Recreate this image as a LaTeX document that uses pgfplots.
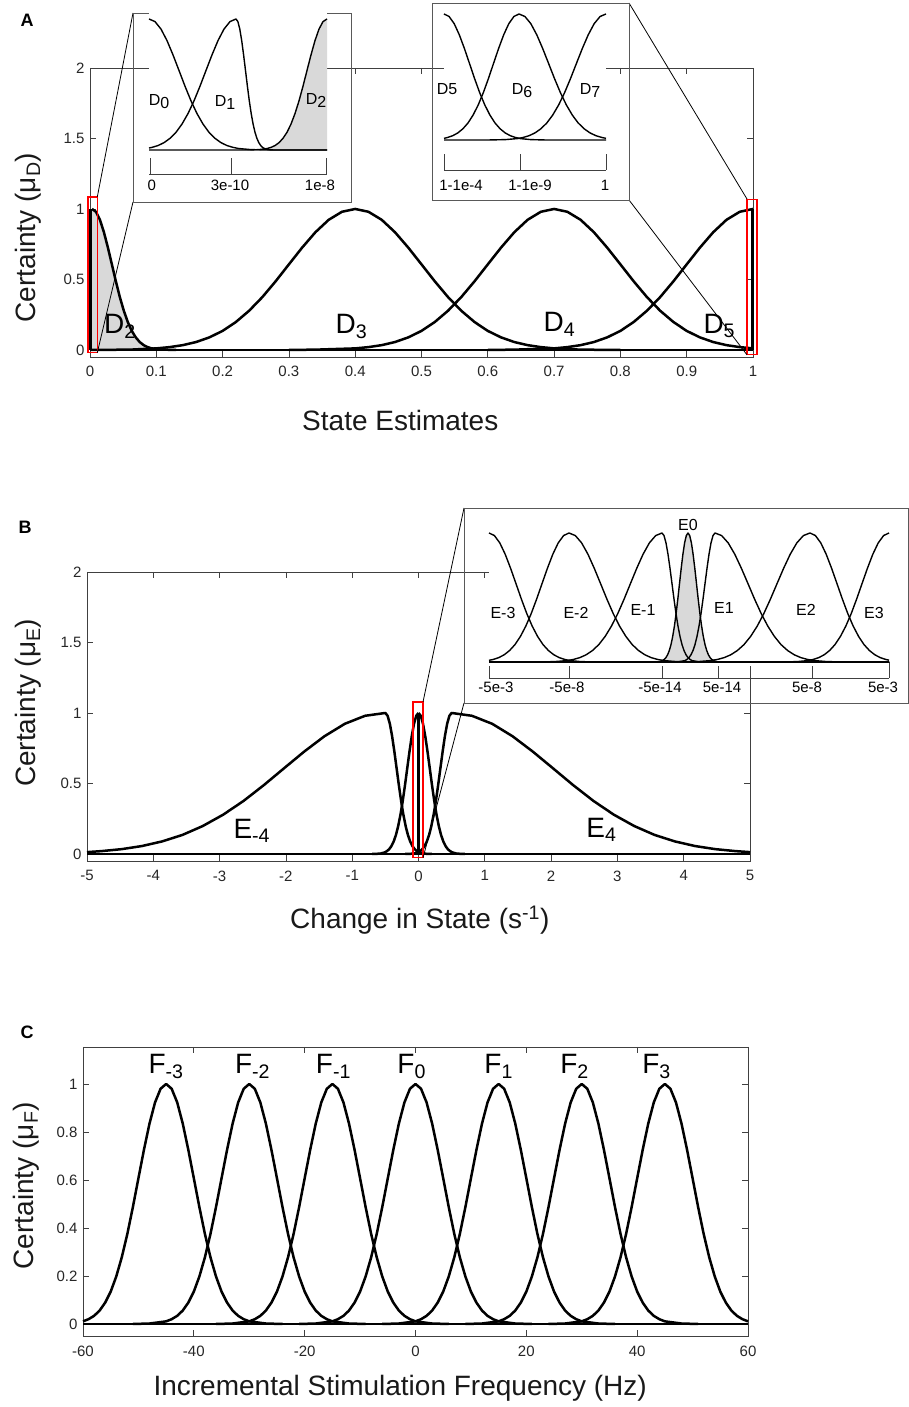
\documentclass[border=0pt]{standalone}
\usepackage{pgfplots}
\pgfplotsset{compat=1.18}
\usepackage{fontspec}
\setmainfont{Liberation Sans}

\pgfplotsset{
 mainax/.style={scale only axis, anchor=south west, clip=false, enlargelimits=false,
  axis line style={black!75, line width=0.8pt},
  every tick/.style={black!75, line width=0.8pt},
  major tick length=6pt, tick align=inside,
  ticklabel style={font=\fontsize{15}{18}\selectfont, text=black!85},
  /pgf/number format/assume math mode=true,
  label style={font=\fontsize{28}{34}\selectfont, text=black!90},
  xticklabel style={yshift=-6pt}, yticklabel style={xshift=-2pt},
 },
 curve/.style={black, line width=2.5pt, line join=round},
 icurve/.style={black, line width=1.4pt, line join=round},
 insetax/.style={scale only axis, anchor=south west, clip=false, enlargelimits=false,
  axis x line*=bottom, axis y line=none, ytick=\empty, xticklabels={},
  major tick length=16pt, tick align=inside,
  axis line style={black!75, line width=0.9pt},
  every tick/.style={black!75, line width=0.9pt}},
}
\newcommand{\biglab}{\fontsize{28}{34}\selectfont}
\newcommand{\inl}{\fontsize{16}{19}\selectfont}
\newcommand{\tkl}{\fontsize{15}{18}\selectfont}

\begin{document}
\begin{tikzpicture}[x=1pt,y=1pt]
\path[use as bounding box] (0,0) rectangle (909,1407);

% panel letters
\node[font=\bfseries\fontsize{18}{20}\selectfont] at (27,1387) {A};
\node[font=\bfseries\fontsize{18}{20}\selectfont] at (25,880) {B};
\node[font=\bfseries\fontsize{18}{20}\selectfont] at (27,375) {C};

%================ PANEL A =================
\begin{axis}[mainax, at={(90pt,1050pt)}, width=663pt, height=289pt,
  xmin=0, xmax=1, ymin=-0.05, ymax=2,
  xtick={0,0.1,0.2,0.3,0.4,0.5,0.6,0.7,0.8,0.9,1},
  ytick={0,0.5,1,1.5,2},
  xlabel={State Estimates}, ylabel={Certainty (μ\textsubscript{D})},
  xlabel style={at={(axis description cs:0.468,-0.221)}, anchor=center},
  ylabel style={at={(axis description cs:-0.0935,0.413)}, anchor=center}]
\addplot[fill=gray!30, draw=none] coordinates {(0.003,1)(0.009,.980)(0.015,.923)(0.021,.835)(0.027,.726)(0.033,.607)(0.039,.487)(0.045,.375)(0.051,.278)(0.057,.198)(0.063,.135)(0.069,.089)(0.075,.056)(0.081,.034)(0.087,.020)(0.093,.011)} \closedcycle;
\addplot[curve] coordinates {(0,0)(1,0)};
\addplot[curve] coordinates {(0.001,0)(0.001,1)};
\addplot[curve] coordinates {(0.999,0)(0.999,1)};
\addplot[curve] coordinates {(0.003,1)(0.009,.980)(0.015,.923)(0.021,.835)(0.027,.726)(0.033,.607)(0.039,.487)(0.045,.375)(0.051,.278)(0.057,.198)(0.063,.135)(0.069,.089)(0.075,.056)(0.081,.034)(0.087,.020)(0.093,.011)(0.111,.002)(0.13,0)};
\addplot[curve] coordinates {(0,0)(0.06,.002)(0.1,.011)(0.12,.020)(0.14,.034)(0.16,.056)(0.18,.089)(0.2,.135)(0.22,.198)(0.24,.278)(0.26,.375)(0.28,.487)(0.3,.607)(0.32,.726)(0.34,.835)(0.36,.923)(0.38,.980)(0.4,1)(0.42,.980)(0.44,.923)(0.46,.835)(0.48,.726)(0.5,.607)(0.52,.487)(0.54,.375)(0.56,.278)(0.58,.198)(0.6,.135)(0.62,.089)(0.64,.056)(0.66,.034)(0.68,.020)(0.7,.011)(0.74,.002)(0.8,0)};
\addplot[curve] coordinates {(0.3,0)(0.34,.002)(0.4,.011)(0.42,.020)(0.44,.034)(0.46,.056)(0.48,.089)(0.5,.135)(0.52,.198)(0.54,.278)(0.56,.375)(0.58,.487)(0.6,.607)(0.62,.726)(0.64,.835)(0.66,.923)(0.68,.980)(0.7,1)(0.72,.980)(0.74,.923)(0.76,.835)(0.78,.726)(0.8,.607)(0.82,.487)(0.84,.375)(0.86,.278)(0.88,.198)(0.9,.135)(0.92,.089)(0.94,.056)(0.96,.034)(0.98,.020)(1,.011)};
\addplot[curve] coordinates {(0.6,0)(0.64,.002)(0.7,.011)(0.72,.020)(0.74,.034)(0.76,.056)(0.78,.089)(0.8,.135)(0.82,.198)(0.84,.278)(0.86,.375)(0.88,.487)(0.9,.607)(0.92,.726)(0.94,.835)(0.96,.923)(0.98,.980)(1,1)};
\node[anchor=base west, font=\biglab] at (axis cs:0.016,0.12) {D\textsubscript{2}};
\node[anchor=base west, font=\biglab] at (axis cs:0.365,0.12) {D\textsubscript{3}};
\node[anchor=base west, font=\biglab] at (axis cs:0.679,0.128) {D\textsubscript{4}};
\node[anchor=base west, font=\biglab] at (axis cs:0.92,0.12) {D\textsubscript{5}};
\coordinate (ra1sw) at (axis cs:-0.003,-0.02);
\coordinate (ra1t) at (axis cs:0.011,1.085);
\coordinate (ra1b) at (axis cs:0.011,-0.02);
\coordinate (ra2t) at (axis cs:0.991,1.07);
\coordinate (ra2b) at (axis cs:0.991,-0.035);
\coordinate (ra2ne) at (axis cs:1.006,1.07);
\end{axis}
\draw[red, line width=1.1pt] (ra1sw) rectangle (ra1t);
\draw[red, line width=1.1pt] (ra2b) rectangle (ra2ne);
\draw[black, line width=0.8pt] (133,1394) -- (ra1t);
\draw[black, line width=0.8pt] (133,1205) -- (ra1b);
\draw[black, line width=0.8pt] (629,1404) -- (ra2t);
\draw[black, line width=0.8pt] (629,1207) -- (ra2b);
\draw[black!65, line width=0.9pt] (133,1205) rectangle (351,1394);
\draw[black!65, line width=0.9pt] (432,1207) rectangle (629,1404);

% inset A1
\begin{axis}[insetax, at={(149pt,1233pt)}, width=178pt, height=155pt,
  xmin=0, xmax=178, ymin=-0.183, ymax=1, xtick={1.7,82,177.7}]
\fill[white] (axis cs:0,-0.02) rectangle (axis cs:178,1.05);
\addplot[fill=gray!30, draw=none] coordinates {(118,.011)(122,.020)(126,.034)(130,.056)(134,.089)(138,.135)(142,.198)(146,.278)(150,.375)(154,.487)(158,.607)(162,.726)(166,.835)(170,.923)(174,.980)(178,1)} \closedcycle;
\addplot[icurve] coordinates {(0,1)(6,.980)(12,.923)(18,.835)(24,.726)(30,.607)(36,.487)(42,.375)(48,.278)(54,.198)(60,.135)(66,.089)(72,.056)(78,.034)(84,.020)(90,.011)(102,.003)(120,0)(178,0)};
\addplot[icurve] coordinates {(0,.015)(3,.020)(9,.034)(15,.056)(21,.089)(27,.135)(33,.198)(39,.278)(45,.375)(51,.487)(57,.607)(63,.726)(69,.835)(75,.923)(81,.980)(87,1)(88.9,.980)(90.8,.923)(92.7,.835)(94.6,.726)(96.5,.607)(98.4,.487)(100.3,.375)(102.2,.278)(104.1,.198)(106,.135)(107.9,.089)(109.8,.056)(111.7,.034)(113.6,.020)(115.5,.011)(119.3,.002)(125,0)(178,0)};
\addplot[icurve] coordinates {(0,0)(100,0)(110,.003)(118,.011)(122,.020)(126,.034)(130,.056)(134,.089)(138,.135)(142,.198)(146,.278)(150,.375)(154,.487)(158,.607)(162,.726)(166,.835)(170,.923)(174,.980)(178,1)};
\node[font=\inl] at (axis cs:10,0.366) {D\raisebox{-3pt}{0}};
\node[font=\inl] at (axis cs:76,0.366) {D\raisebox{-3pt}{1}};
\node[font=\inl] at (axis cs:167,0.38) {D\raisebox{-3pt}{2}};
\node[font=\tkl] at (axis cs:2.7,-0.267) {0};
\node[font=\tkl] at (axis cs:81,-0.267) {3e-10};
\node[font=\tkl] at (axis cs:171,-0.267) {1e-8};
\end{axis}

% inset A2
\begin{axis}[insetax, at={(444pt,1237pt)}, width=162pt, height=156pt,
  xmin=0, xmax=162, ymin=-0.238, ymax=1, xtick={0,76,162}]
\fill[white] (axis cs:0,-0.02) rectangle (axis cs:162,1.05);
\addplot[icurve] coordinates {(0,1)(5.1,.980)(10.2,.923)(15.3,.835)(20.4,.726)(25.5,.607)(30.6,.487)(35.7,.375)(40.8,.278)(45.9,.198)(51,.135)(56.1,.089)(61.2,.056)(66.3,.034)(71.4,.020)(76.5,.011)(86.7,.003)(102,0)(162,0)};
\addplot[icurve] coordinates {(0,.013)(3.6,.020)(8.7,.034)(13.8,.056)(18.9,.089)(24,.135)(29.1,.198)(34.2,.278)(39.3,.375)(44.4,.487)(49.5,.607)(54.6,.726)(59.7,.835)(64.8,.923)(69.9,.980)(75,1)(80.92,.980)(86.84,.923)(92.76,.835)(98.68,.726)(104.6,.607)(110.52,.487)(116.44,.375)(122.36,.278)(128.28,.198)(134.2,.135)(140.12,.089)(146.04,.056)(151.96,.034)(157.88,.020)(162,.013)};
\addplot[icurve] coordinates {(0,0)(44,0)(61.4,.003)(73.2,.011)(79.12,.020)(85.04,.034)(90.96,.056)(96.88,.089)(102.8,.135)(108.72,.198)(114.64,.278)(120.56,.375)(126.48,.487)(132.4,.607)(138.32,.726)(144.24,.835)(150.16,.923)(156.08,.980)(162,1)};
\node[font=\inl] at (axis cs:3,0.405) {D5};
\node[font=\inl] at (axis cs:78,0.39) {D\raisebox{-3pt}{6}};
\node[font=\inl] at (axis cs:146,0.39) {D\raisebox{-3pt}{7}};
\node[font=\tkl] at (axis cs:17,-0.357) {1-1e-4};
\node[font=\tkl] at (axis cs:86,-0.357) {1-1e-9};
\node[font=\tkl] at (axis cs:161,-0.357) {1};
\end{axis}

%================ PANEL B =================
\begin{axis}[mainax, at={(87pt,546pt)}, width=663pt, height=289pt,
  xmin=-5, xmax=5, ymin=-0.05, ymax=2,
  xtick={-5,-4,-3,-2,-1,0,1,2,3,4,5},
  ytick={0,0.5,1,1.5,2},
  xlabel={Change in State (s\textsuperscript{-1})}, ylabel={Certainty (μ\textsubscript{E})},
  xlabel style={at={(axis description cs:0.502,-0.204)}, anchor=center},
  ylabel style={at={(axis description cs:-0.089,0.547)}, anchor=center}]
\addplot[curve] coordinates {(-5,0)(5,0)};
\addplot[curve] coordinates {(0,0)(0,1)};
\addplot[curve] coordinates {(-5,.013)(-4.784,.020)(-4.478,.034)(-4.172,.056)(-3.866,.089)(-3.56,.135)(-3.254,.198)(-2.948,.278)(-2.642,.375)(-2.336,.487)(-2.03,.607)(-1.724,.726)(-1.418,.835)(-1.112,.923)(-0.806,.980)(-0.5,1)(-0.466,.980)(-0.432,.923)(-0.398,.835)(-0.364,.726)(-0.33,.607)(-0.296,.487)(-0.262,.375)(-0.228,.278)(-0.194,.198)(-0.16,.135)(-0.126,.089)(-0.092,.056)(-0.058,.034)(-0.024,.020)(0.01,.011)(0.078,.002)(0.2,0)};
\addplot[curve] coordinates {(-0.2,0)(-0.078,.002)(-0.01,.011)(0.024,.020)(0.058,.034)(0.092,.056)(0.126,.089)(0.16,.135)(0.194,.198)(0.228,.278)(0.262,.375)(0.296,.487)(0.33,.607)(0.364,.726)(0.398,.835)(0.432,.923)(0.466,.980)(0.5,1)(0.806,.980)(1.112,.923)(1.418,.835)(1.724,.726)(2.03,.607)(2.336,.487)(2.642,.375)(2.948,.278)(3.254,.198)(3.56,.135)(3.866,.089)(4.172,.056)(4.478,.034)(4.784,.020)(5,.013)};
\addplot[curve] coordinates {(-0.7,0)(-0.578,.002)(-0.51,.011)(-0.476,.020)(-0.442,.034)(-0.408,.056)(-0.374,.089)(-0.34,.135)(-0.306,.198)(-0.272,.278)(-0.238,.375)(-0.204,.487)(-0.17,.607)(-0.136,.726)(-0.102,.835)(-0.068,.923)(-0.034,.980)(0,1)};
\addplot[curve] coordinates {(0,1)(0.034,.980)(0.068,.923)(0.102,.835)(0.136,.726)(0.17,.607)(0.204,.487)(0.238,.375)(0.272,.278)(0.306,.198)(0.34,.135)(0.374,.089)(0.408,.056)(0.442,.034)(0.476,.020)(0.51,.011)(0.578,.002)(0.7,0)};
\node[anchor=base west, font=\biglab] at (axis cs:-2.843,0.113) {E\textsubscript{-4}};
\node[anchor=base west, font=\biglab] at (axis cs:2.48,0.12) {E\textsubscript{4}};
\coordinate (rbsw) at (axis cs:-0.083,-0.028);
\coordinate (rbt) at (axis cs:0.068,1.078);
\coordinate (rbb) at (axis cs:0.068,-0.028);
\end{axis}
\draw[red, line width=1.1pt] (rbsw) rectangle (rbt);
\draw[black, line width=0.8pt] (464,899) -- (rbt);
\draw[black, line width=0.8pt] (464,704) -- (rbb);
\draw[black!65, line width=0.9pt] (464,704) rectangle (908.5,899);

% inset B
\begin{axis}[insetax, at={(489pt,729pt)}, width=400pt, height=145pt,
  xmin=0, xmax=400, ymin=-0.124, ymax=1, xtick={0,80,173,229,323,400}]
\fill[white] (axis cs:0,-0.03) rectangle (axis cs:400,1.1);
\addplot[fill=gray!30, draw=none] coordinates {(173.5,.011)(175.2,.020)(176.9,.034)(178.6,.056)(180.3,.089)(182,.135)(183.7,.198)(185.4,.278)(187.1,.375)(188.8,.487)(190.5,.607)(192.2,.726)(193.9,.835)(195.6,.923)(197.3,.980)(199,1)(200.7,.980)(202.4,.923)(204.1,.835)(205.8,.726)(207.5,.607)(209.2,.487)(210.9,.375)(212.6,.278)(214.3,.198)(216,.135)(217.7,.089)(219.4,.056)(221.1,.034)(222.8,.020)(224.5,.011)} \closedcycle;
\addplot[icurve] coordinates {(0,1)(5.4,.980)(10.8,.923)(16.2,.835)(21.6,.726)(27,.607)(32.4,.487)(37.8,.375)(43.2,.278)(48.6,.198)(54,.135)(59.4,.089)(64.8,.056)(70.2,.034)(75.6,.020)(81,.011)(91.8,.003)(108,0)(400,0)};
\addplot[icurve] coordinates {(0,.013)(4.4,.020)(9.8,.034)(15.2,.056)(20.6,.089)(26,.135)(31.4,.198)(36.8,.278)(42.2,.375)(47.6,.487)(53,.607)(58.4,.726)(63.8,.835)(69.2,.923)(74.6,.980)(80,1)(86.32,.980)(92.64,.923)(98.96,.835)(105.28,.726)(111.6,.607)(117.92,.487)(124.24,.375)(130.56,.278)(136.88,.198)(143.2,.135)(149.52,.089)(155.84,.056)(162.16,.034)(168.48,.020)(174.8,.011)(187.4,.003)(206,0)(400,0)};
\addplot[icurve] coordinates {(0,0)(48,0)(65.6,.003)(78.2,.011)(84.52,.020)(90.84,.034)(97.16,.056)(103.48,.089)(109.8,.135)(116.12,.198)(122.44,.278)(128.76,.375)(135.08,.487)(141.4,.607)(147.72,.726)(154.04,.835)(160.36,.923)(166.68,.980)(173,1)(175,.980)(177,.923)(179,.835)(181,.726)(183,.607)(185,.487)(187,.375)(189,.278)(191,.198)(193,.135)(195,.089)(197,.056)(199,.034)(201,.020)(203,.011)(209,.002)(215,0)(400,0)};
\addplot[icurve] coordinates {(0,0)(164,0)(170.1,.002)(173.5,.011)(175.2,.020)(176.9,.034)(178.6,.056)(180.3,.089)(182,.135)(183.7,.198)(185.4,.278)(187.1,.375)(188.8,.487)(190.5,.607)(192.2,.726)(193.9,.835)(195.6,.923)(197.3,.980)(199,1)(200.7,.980)(202.4,.923)(204.1,.835)(205.8,.726)(207.5,.607)(209.2,.487)(210.9,.375)(212.6,.278)(214.3,.198)(216,.135)(217.7,.089)(219.4,.056)(221.1,.034)(222.8,.020)(224.5,.011)(227.9,.002)(234,0)(400,0)};
\addplot[icurve] coordinates {(0,0)(184,0)(190,.002)(196,.011)(198,.020)(200,.034)(202,.056)(204,.089)(206,.135)(208,.198)(210,.278)(212,.375)(214,.487)(216,.607)(218,.726)(220,.835)(222,.923)(224,.980)(226,1)(232.6,.980)(239.2,.923)(245.8,.835)(252.4,.726)(259,.607)(265.6,.487)(272.2,.375)(278.8,.278)(285.4,.198)(292,.135)(298.6,.089)(305.2,.056)(311.8,.034)(318.4,.020)(325,.011)(338.2,.003)(358,0)(400,0)};
\addplot[icurve] coordinates {(0,0)(190,0)(208.8,.003)(222,.011)(228.6,.020)(235.2,.034)(241.8,.056)(248.4,.089)(255,.135)(261.6,.198)(268.2,.278)(274.8,.375)(281.4,.487)(288,.607)(294.6,.726)(301.2,.835)(307.8,.923)(314.4,.980)(321,1)(326.4,.980)(331.8,.923)(337.2,.835)(342.6,.726)(348,.607)(353.4,.487)(358.8,.375)(364.2,.278)(369.6,.198)(375,.135)(380.4,.089)(385.8,.056)(391.2,.034)(396.6,.020)(400,.014)};
\addplot[icurve] coordinates {(0,0)(292,0)(308.2,.003)(319,.011)(324.4,.020)(329.8,.034)(335.2,.056)(340.6,.089)(346,.135)(351.4,.198)(356.8,.278)(362.2,.375)(367.6,.487)(373,.607)(378.4,.726)(383.8,.835)(389.2,.923)(394.6,.980)(400,1)};
\node[font=\inl] at (axis cs:14,0.38) {E-3};
\node[font=\inl] at (axis cs:87,0.38) {E-2};
\node[font=\inl] at (axis cs:154,0.40) {E-1};
\node[font=\inl] at (axis cs:199,1.06) {E0};
\node[font=\inl] at (axis cs:235,0.42) {E1};
\node[font=\inl] at (axis cs:317,0.40) {E2};
\node[font=\inl] at (axis cs:385,0.38) {E3};
\node[font=\tkl] at (axis cs:7,-0.2) {-5e-3};
\node[font=\tkl] at (axis cs:78,-0.2) {-5e-8};
\node[font=\tkl] at (axis cs:171,-0.2) {-5e-14};
\node[font=\tkl] at (axis cs:233,-0.2) {5e-14};
\node[font=\tkl] at (axis cs:318,-0.2) {5e-8};
\node[font=\tkl] at (axis cs:394,-0.2) {5e-3};
\end{axis}

%================ PANEL C =================
\begin{axis}[mainax, at={(83pt,71pt)}, width=665pt, height=289pt,
  xmin=-60, xmax=60, ymin=-0.05, ymax=1.154,
  xtick={-60,-40,-20,0,20,40,60},
  ytick={0,0.2,0.4,0.6,0.8,1},
  xlabel={Incremental Stimulation Frequency (Hz)}, ylabel={Certainty (μ\textsubscript{F})},
  xlabel style={at={(axis description cs:0.477,-0.18)}, anchor=center},
  ylabel style={at={(axis description cs:-0.086,0.52)}, anchor=center}]
\addplot[curve] coordinates {(-60,0)(60,0)};
\addplot[curve] coordinates {(-60,.011)(-59,.020)(-58,.034)(-57,.056)(-56,.089)(-55,.135)(-54,.198)(-53,.278)(-52,.375)(-51,.487)(-50,.607)(-49,.726)(-48,.835)(-47,.923)(-46,.980)(-45,1)(-44,.980)(-43,.923)(-42,.835)(-41,.726)(-40,.607)(-39,.487)(-38,.375)(-37,.278)(-36,.198)(-35,.135)(-34,.089)(-33,.056)(-32,.034)(-31,.020)(-30,.011)(-27,.002)(-24,0)};
\addplot[curve] coordinates {(-51,0)(-48,.002)(-45,.011)(-44,.020)(-43,.034)(-42,.056)(-41,.089)(-40,.135)(-39,.198)(-38,.278)(-37,.375)(-36,.487)(-35,.607)(-34,.726)(-33,.835)(-32,.923)(-31,.980)(-30,1)(-29,.980)(-28,.923)(-27,.835)(-26,.726)(-25,.607)(-24,.487)(-23,.375)(-22,.278)(-21,.198)(-20,.135)(-19,.089)(-18,.056)(-17,.034)(-16,.020)(-15,.011)(-12,.002)(-9,0)};
\addplot[curve] coordinates {(-36,0)(-33,.002)(-30,.011)(-29,.020)(-28,.034)(-27,.056)(-26,.089)(-25,.135)(-24,.198)(-23,.278)(-22,.375)(-21,.487)(-20,.607)(-19,.726)(-18,.835)(-17,.923)(-16,.980)(-15,1)(-14,.980)(-13,.923)(-12,.835)(-11,.726)(-10,.607)(-9,.487)(-8,.375)(-7,.278)(-6,.198)(-5,.135)(-4,.089)(-3,.056)(-2,.034)(-1,.020)(0,.011)(3,.002)(6,0)};
\addplot[curve] coordinates {(-21,0)(-18,.002)(-15,.011)(-14,.020)(-13,.034)(-12,.056)(-11,.089)(-10,.135)(-9,.198)(-8,.278)(-7,.375)(-6,.487)(-5,.607)(-4,.726)(-3,.835)(-2,.923)(-1,.980)(0,1)(1,.980)(2,.923)(3,.835)(4,.726)(5,.607)(6,.487)(7,.375)(8,.278)(9,.198)(10,.135)(11,.089)(12,.056)(13,.034)(14,.020)(15,.011)(18,.002)(21,0)};
\addplot[curve] coordinates {(-6,0)(-3,.002)(0,.011)(1,.020)(2,.034)(3,.056)(4,.089)(5,.135)(6,.198)(7,.278)(8,.375)(9,.487)(10,.607)(11,.726)(12,.835)(13,.923)(14,.980)(15,1)(16,.980)(17,.923)(18,.835)(19,.726)(20,.607)(21,.487)(22,.375)(23,.278)(24,.198)(25,.135)(26,.089)(27,.056)(28,.034)(29,.020)(30,.011)(33,.002)(36,0)};
\addplot[curve] coordinates {(9,0)(12,.002)(15,.011)(16,.020)(17,.034)(18,.056)(19,.089)(20,.135)(21,.198)(22,.278)(23,.375)(24,.487)(25,.607)(26,.726)(27,.835)(28,.923)(29,.980)(30,1)(31,.980)(32,.923)(33,.835)(34,.726)(35,.607)(36,.487)(37,.375)(38,.278)(39,.198)(40,.135)(41,.089)(42,.056)(43,.034)(44,.020)(45,.011)(48,.002)(51,0)};
\addplot[curve] coordinates {(24,0)(27,.002)(30,.011)(31,.020)(32,.034)(33,.056)(34,.089)(35,.135)(36,.198)(37,.278)(38,.375)(39,.487)(40,.607)(41,.726)(42,.835)(43,.923)(44,.980)(45,1)(46,.980)(47,.923)(48,.835)(49,.726)(50,.607)(51,.487)(52,.375)(53,.278)(54,.198)(55,.135)(56,.089)(57,.056)(58,.034)(59,.020)(60,.011)};
\node[anchor=base west, font=\biglab] at (axis cs:-48.8,1.045) {F\textsubscript{-3}};
\node[anchor=base west, font=\biglab] at (axis cs:-33.2,1.045) {F\textsubscript{-2}};
\node[anchor=base west, font=\biglab] at (axis cs:-18.6,1.045) {F\textsubscript{-1}};
\node[anchor=base west, font=\biglab] at (axis cs:-3.9,1.045) {F\textsubscript{0}};
\node[anchor=base west, font=\biglab] at (axis cs:11.8,1.045) {F\textsubscript{1}};
\node[anchor=base west, font=\biglab] at (axis cs:25.5,1.045) {F\textsubscript{2}};
\node[anchor=base west, font=\biglab] at (axis cs:40.3,1.045) {F\textsubscript{3}};
\end{axis}
\end{tikzpicture}
\end{document}
